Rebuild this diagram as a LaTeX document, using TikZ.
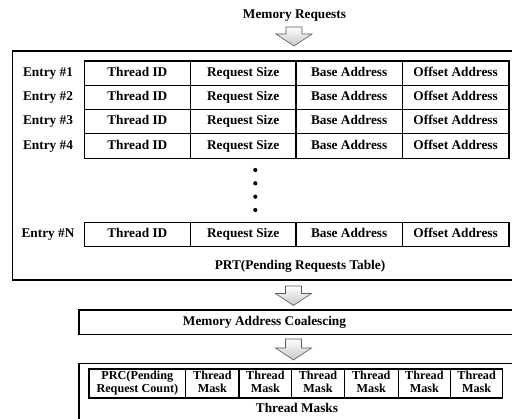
\documentclass[tikz,border=0pt]{standalone}
\usepackage{fontspec}
\setmainfont{Liberation Serif}
\begin{document}
\begin{tikzpicture}[x=1pt,y=-1pt,
  font=\bfseries\fontsize{13.3}{15}\selectfont,
  frame/.style={draw, line width=1.1pt, inner sep=0pt, outer sep=0pt, anchor=north west},
  cell/.style={draw, line width=1.1pt, inner sep=0pt, outer sep=0pt, align=center, text height=9.3pt, text depth=3pt},
  lbl/.style={inner sep=0pt, text height=9.3pt, text depth=3pt},
  small/.style={draw, line width=1.1pt, inner sep=0pt, outer sep=0pt, align=center,
    font=\bfseries\fontsize{12.2}{13.5}\selectfont},
  blk/.style={draw=gray!70!black, line width=0.6pt, top color=white, bottom color=gray!45}]

\useasboundingbox (0,0) rectangle (512,419);
\clip (0,0) rectangle (512,419);
\fill[white] (0,0) rectangle (512,419);

\newcommand\blkarrow[3]{%
  \path[blk] (#1-8,#2) -- (#1+8,#2) -- (#1+8,#3-12) -- (#1+18,#3-12) -- (#1,#3)
    -- (#1-18,#3-12) -- (#1-8,#3-12) -- cycle;}

% top label and arrow
\node[lbl] (mr) at (294.5,15) {Memory Requests};
\blkarrow{294}{27}{46}

% PRT frame
\node[frame, minimum width=510pt, minimum height=229pt] (prt) at (12.3,51) {};

% rows
\foreach \r/\lab/\yc in {1/1/73.15, 2/2/97.45, 3/3/121.75, 4/4/146.05, 5/N/234.5}{
  \node[lbl] (e\r) at (48,\yc) {Entry \#\lab};
  \node[cell, minimum width=106pt, minimum height=24.3pt] (r\r c1) at (137.3,\yc) {Thread ID};
  \node[cell, minimum width=105.7pt, minimum height=24.3pt] (r\r c2) at (243.15,\yc) {Request Size};
  \node[cell, minimum width=106.3pt, minimum height=24.3pt] (r\r c3) at (349.15,\yc) {Base Address};
  \node[cell, minimum width=106.7pt, minimum height=24.3pt] (r\r c4) at (455.65,\yc) {Offset Address};
}

% dots
\foreach \yd in {170,183.3,196.7,210}{\fill (255.3,\yd) circle (2.1pt);}

\node[lbl] (prtlbl) at (300,266) {PRT(Pending Requests Table)};

% arrow 2
\blkarrow{293.5}{286}{305.5}

% coalescing
\node[frame, minimum width=440pt, minimum height=24.3pt] (mac) at (79,310) {};
\node[lbl] (maclbl) at (264.5,322.2) {Memory Address Coalescing};

% arrow 3
\blkarrow{293.5}{339}{360}

% thread masks frame
\node[frame, minimum width=440pt, minimum height=70pt] (tm) at (79,363.5) {};
\node[small, minimum width=96.7pt, minimum height=29pt] (prc) at (137.35,383.5) {\strut PRC(Pending\\\strut Request Count)};
\foreach \i/\xc/\w in {1/212.35/53.3, 2/265.35/52.7, 3/318/52.6, 4/371.3/54, 5/424.4/52.2, 6/476.6/52.2}{
  \node[small, minimum width=\w pt, minimum height=29pt] (m\i) at (\xc,383.5) {\strut Thread\\\strut Mask};
}
\node[lbl] (tmlbl) at (297,409.5) {Thread Masks};
\end{tikzpicture}
\end{document}
